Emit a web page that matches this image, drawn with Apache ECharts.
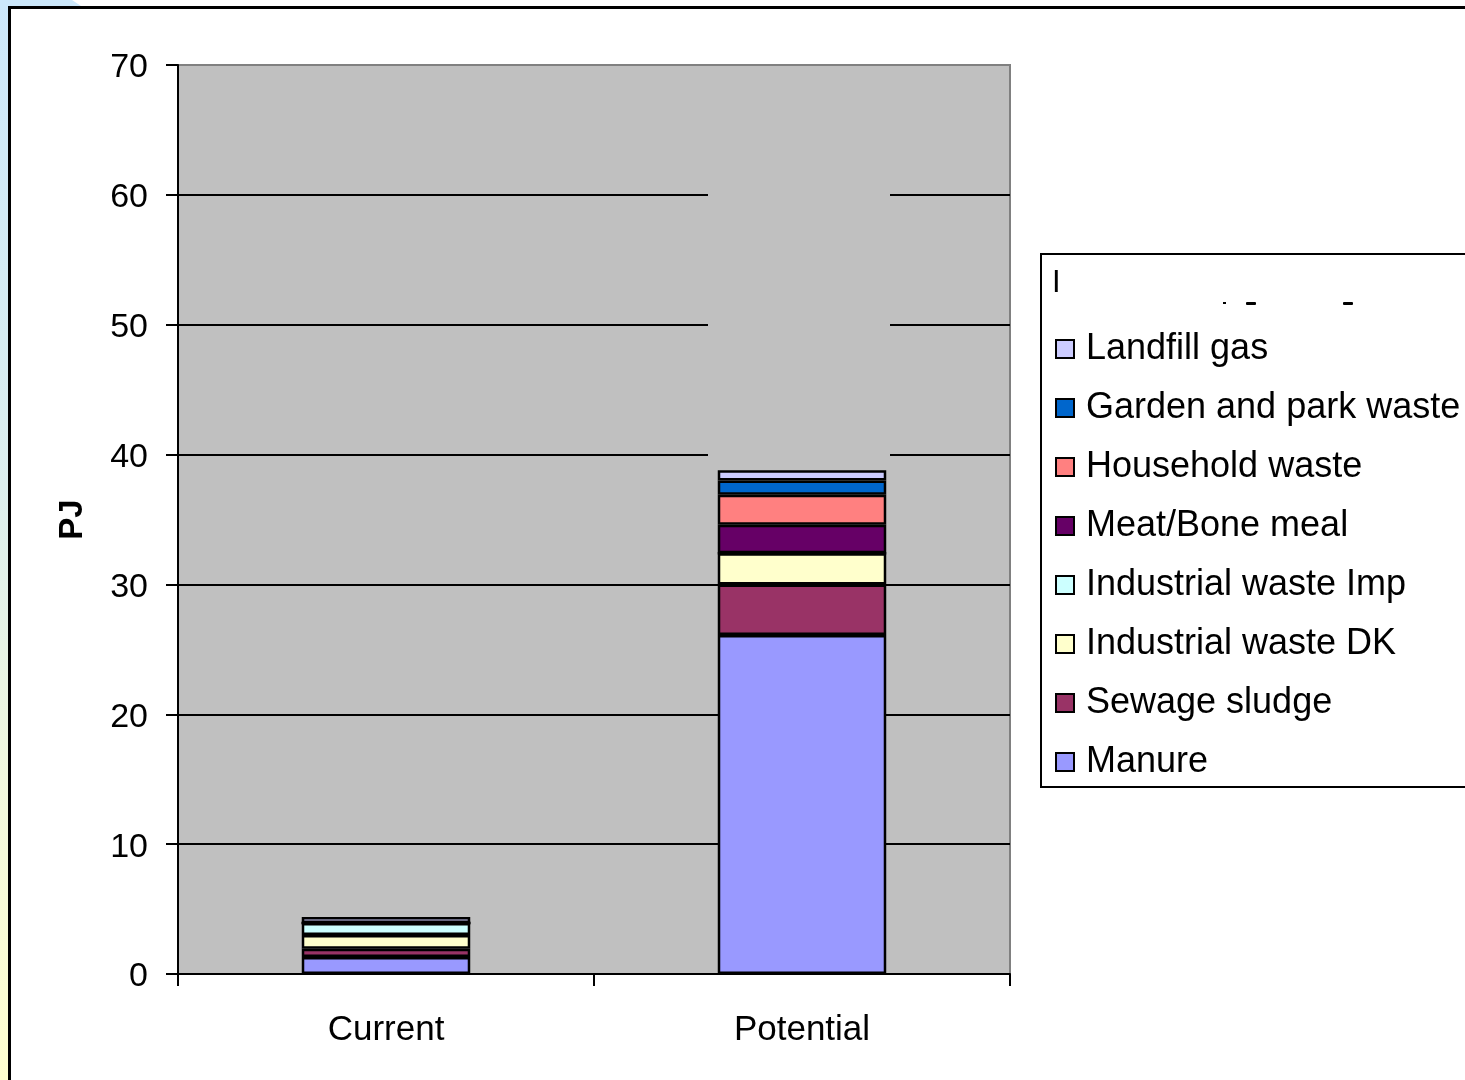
<!DOCTYPE html>
<html>
<head>
<meta charset="utf-8">
<title>Biogas input PJ</title>
<script src="https://cdn.jsdelivr.net/npm/echarts@6/dist/echarts.min.js"></script>
<style>
  html, body { margin: 0; padding: 0; width: 1465px; height: 1080px; overflow: hidden; background: #ffffff; }
  #sideStrip { position: absolute; left: 0; top: 0; width: 12px; height: 1080px;
    background: linear-gradient(to bottom, #cce8fb 0%, #dcefee 45%, #f3f9dc 75%, #ffffcf 100%); }
  #topStrip { position: absolute; left: 0; top: 0; width: 84px; height: 8px; background: #cce8fb;
    clip-path: polygon(0 0, 72px 0, 84px 100%, 0 100%); }
  #frame { position: absolute; left: 8px; top: 6px; width: 1500px; height: 1100px; background: #ffffff;
    border-left: 3px solid #000; border-top: 3px solid #000; }
  #chart { position: absolute; left: 0; top: 0; width: 1465px; height: 1080px; }
</style>
</head>
<body>
<div id="sideStrip"></div>
<div id="topStrip"></div>
<div id="frame"></div>
<div id="chart"></div>
<script>
// Categories and stacked components (PJ), bottom of stack first
const categories = ['Current', 'Potential'];
const manure = [1.3, 26.1];
const sewageSludge = [0.65, 3.9];
const industrialWasteDK = [1.05, 2.4];
const industrialWasteImp = [0.93, 0];
const meatBoneMeal = [0, 2.2];
const householdWaste = [0, 2.3];
const gardenParkWaste = [0, 1.1];
const landfillGas = [0.45, 0.8];

const seriesNames = ['Manure', 'Sewage sludge', 'Industrial waste DK', 'Industrial waste Imp',
  'Meat/Bone meal', 'Household waste', 'Garden and park waste', 'Landfill gas'];
const seriesValues = [manure, sewageSludge, industrialWasteDK, industrialWasteImp,
  meatBoneMeal, householdWaste, gardenParkWaste, landfillGas];
const seriesColors = ['#9999FF', '#993366', '#FFFFCC', '#CCFFFF',
  '#660066', '#FF8080', '#0066CC', '#CCCCFF'];

const yMin = 0, yMax = 70, yStep = 10;
const yAxisTitle = 'PJ';

const FONT = '"Liberation Sans", Arial, sans-serif';

const chart = echarts.init(document.getElementById('chart'), null, { renderer: 'canvas' });

const series = seriesNames.map((name, i) => ({
  name: name,
  type: 'bar',
  stack: 'total',
  barWidth: '40.5%',
  data: seriesValues[i],
  itemStyle: { color: seriesColors[i], borderColor: '#000000', borderWidth: 2.5 },
  emphasis: { disabled: true },
  animation: false
}));

chart.setOption({
  animation: false,
  textStyle: { fontFamily: FONT },
  grid: {
    left: 178, top: 65, right: 455, bottom: 106,
    show: true, backgroundColor: '#C0C0C0', borderColor: '#808080', borderWidth: 2
  },
  legend: {
    orient: 'vertical',
    left: 1055, top: 331,
    padding: 0,
    data: seriesNames.slice().reverse(),
    icon: 'rect',
    itemWidth: 18, itemHeight: 18,
    itemGap: 23,
    selectedMode: false,
    textStyle: { fontFamily: FONT, fontSize: 36, color: '#000', lineHeight: 36, padding: [0, 0, 0, 7] }
  },
  xAxis: {
    type: 'category',
    data: categories,
    axisLine: { lineStyle: { color: '#000', width: 2 } },
    axisTick: { show: true, length: 12, lineStyle: { color: '#000', width: 2 } },
    axisLabel: { fontFamily: FONT, fontSize: 35, color: '#000', margin: 39 },
    splitLine: { show: false }
  },
  yAxis: {
    type: 'value',
    min: yMin, max: yMax, interval: yStep,
    name: yAxisTitle,
    nameLocation: 'middle',
    nameRotate: 90,
    nameGap: 89,
    nameTextStyle: { fontFamily: FONT, fontSize: 33, fontWeight: 'bold', color: '#000' },
    axisLine: { show: true, lineStyle: { color: '#000', width: 2 } },
    axisTick: { show: true, length: 12, lineStyle: { color: '#000', width: 2 } },
    axisLabel: { fontFamily: FONT, fontSize: 34, color: '#000', margin: 30, verticalAlign: 'top', lineHeight: 6 },
    splitLine: { show: true, showMaxLine: false, lineStyle: { color: '#000', width: 2 } }
  },
  series: series
});

// Overlay pieces positioned through the axes: an uncovered band above the Potential stack,
// the legend frame and the partly hidden legend heading.
const potentialTotal = seriesValues.reduce((s, arr) => s + arr[1], 0);
const topLeft = chart.convertToPixel({ xAxisIndex: 0, yAxisIndex: 0 }, [categories[1], yMax]);
const stackTop = chart.convertToPixel({ xAxisIndex: 0, yAxisIndex: 0 }, [categories[1], potentialTotal]);

chart.setOption({
  graphic: [
    {
      type: 'rect', id: 'band', z: 1, silent: true,
      shape: { x: topLeft[0] - 94, y: topLeft[1] + 2, width: 182, height: stackTop[1] - topLeft[1] - 2 },
      style: { fill: '#C0C0C0' }
    },
    {
      type: 'rect', id: 'legendBox', z: 0, silent: true,
      shape: { x: 1041, y: 254, width: 440, height: 533 },
      style: { fill: '#ffffff', stroke: '#000', lineWidth: 2 }
    },
    {
      type: 'text', id: 'legendHead', z: 5, silent: true,
      x: 1052, y: 268,
      style: { text: 'I', font: '31px ' + FONT, fill: '#000' }
    },
    { type: 'rect', id: 'd1', z: 5, silent: true, shape: { x: 1223, y: 302, width: 3, height: 2 }, style: { fill: '#000' } },
    { type: 'rect', id: 'd2', z: 5, silent: true, shape: { x: 1246, y: 302, width: 10, height: 3, r: 1 }, style: { fill: '#000' } },
    { type: 'rect', id: 'd3', z: 5, silent: true, shape: { x: 1343, y: 302, width: 10, height: 3, r: 1 }, style: { fill: '#000' } }
  ]
});
</script>
</body>
</html>
